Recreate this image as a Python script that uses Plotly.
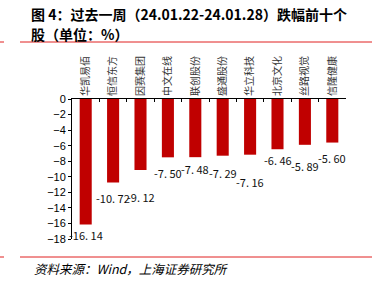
import plotly.graph_objects as go

categories = ["华凯易佰", "恒信东方", "因赛集团", "中文在线", "联创股份",
              "盛通股份", "华立科技", "北京文化", "丝路视觉", "信隆健康"]
values = [-16.14, -10.72, -9.12, -7.50, -7.48, -7.29, -7.16, -6.46, -5.89, -5.60]
y_ticks = [0, -2, -4, -6, -8, -10, -12, -14, -16, -18]

# label offsets below bar ends (pixels), styling only
label_shift = [-10, -16, -27, -16, -12, -17, -27, -11, -21, -15]

W, H = 381, 283
L, R, T, B = 72, 35, 99, 44

fig = go.Figure()
fig.add_trace(go.Bar(
    x=categories, y=values, marker_color="#C00000", width=0.44,
    marker_line_width=0,
))

for c, v, s in zip(categories, values, label_shift):
    fig.add_annotation(x=c, y=v, text=f"{v:.2f}".replace(".", ". "), showarrow=False,
                       yshift=s, font=dict(size=11, color="#111", family="Noto Sans CJK SC"))

fig.update_layout(
    width=W, height=H, margin=dict(l=L, r=R, t=T, b=B),
    plot_bgcolor="white", paper_bgcolor="white", showlegend=False,
    font=dict(family="Liberation Sans, Arial", color="#000"),
)
fig.update_xaxes(
    side="top", tickangle=-90, showline=True, linecolor="black", linewidth=1,
    ticks="inside", ticklen=3, tickcolor="black", tickson="boundaries",
    tickfont=dict(size=10, family="Noto Sans CJK SC", color="#333"),
    range=[-0.5, 9.5], showgrid=False,
)
fig.update_yaxes(
    range=[-18, 0], tickvals=y_ticks, ticktext=[str(t).replace("-", "\u2212") for t in y_ticks],
    showline=True, linecolor="black", linewidth=1, ticks="outside", ticklen=3,
    tickcolor="black", showgrid=False, zeroline=False,
    tickfont=dict(size=11, color="#000"),
)

title1 = "图 4：过去一周（24.01.22-24.01.28）跌幅前十个"
title2 = "股（单位：%）"


def px_x(x):
    return (x - L) / (W - L - R)


def px_y(y):
    return (H - B - y) / (H - T - B)


fig.add_annotation(xref="paper", yref="paper", x=px_x(29), y=px_y(14), xanchor="left", yanchor="middle",
                   text=f"<b>{title1}</b>", align="left", showarrow=False,
                   font=dict(size=14, family="Noto Sans CJK SC", color="#000"))
fig.add_annotation(xref="paper", yref="paper", x=px_x(29), y=px_y(34), xanchor="left", yanchor="middle",
                   text=f"<b>{title2}</b>", align="left", showarrow=False,
                   font=dict(size=14, family="Noto Sans CJK SC", color="#000"))
fig.add_annotation(xref="paper", yref="paper", x=px_x(32), y=px_y(268), xanchor="left", yanchor="middle",
                   text="<i>资料来源：Wind，上海证券研究所</i>", align="left", showarrow=False,
                   font=dict(size=12.5, family="Noto Sans CJK SC", color="#000"))

for yy in (42, 257):
    fig.add_shape(type="line", xref="paper", yref="paper", x0=px_x(20), x1=px_x(372),
                  y0=px_y(yy), y1=px_y(yy), line=dict(color="#E02020", width=1))
    fig.add_shape(type="line", xref="paper", yref="paper", x0=px_x(0), x1=px_x(4),
                  y0=px_y(yy), y1=px_y(yy), line=dict(color="#E02020", width=1))

fig.write_html("out.html")
